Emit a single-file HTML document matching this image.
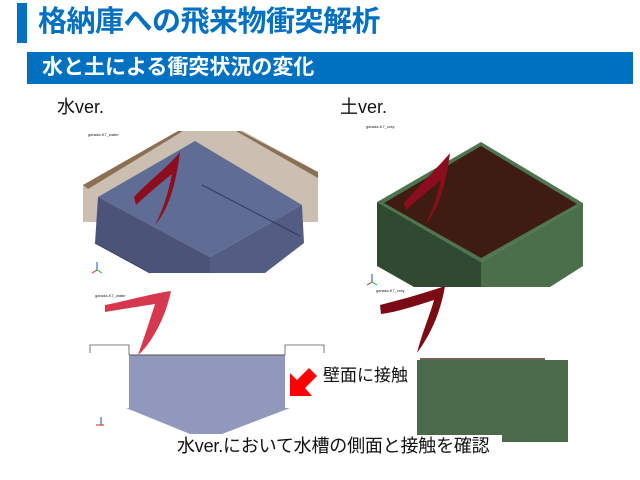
<!DOCTYPE html>
<html><head><meta charset="utf-8"><style>
body{margin:0;width:640px;height:480px;background:#fff;position:relative;overflow:hidden;font-family:"Liberation Sans","Noto Sans CJK JP",sans-serif}
.a{position:absolute;white-space:nowrap}
</style></head><body>
<div class="a" style="left:17px;top:3px;width:10px;height:40px;background:#0070c0"></div>
<div class="a" style="left:38px;top:4px;font-size:29px;font-weight:bold;color:#0070c0;line-height:36px;letter-spacing:-0.5px">格納庫への飛来物衝突解析</div>
<div class="a" style="left:27px;top:52px;width:606px;height:32px;background:#0070c0"></div>
<div class="a" style="left:42px;top:53px;font-size:21px;font-weight:bold;color:#fff;line-height:30px">水と土による衝突状況の変化</div>
<div class="a" style="left:57px;top:95px;font-size:18px;color:#111;line-height:24px">水ver.</div>
<div class="a" style="left:340px;top:95px;font-size:18px;color:#111;line-height:24px">土ver.</div>
<svg class="a" style="left:0;top:0" width="640" height="480">
<g font-size="4" font-family="Liberation Sans" fill="#222">
<text x="88" y="136">garada-K7_water</text><text x="366" y="128">garada-K7_cray</text>
<text x="95" y="297">garada-K7_water</text><text x="376" y="292">garada-K7_cray</text></g>
<polygon points="83,185 178,131 243,131 318,172 318,222 83,222" fill="#cbbfb2"/>
<polygon points="83,185 178,131 183,131 88,189" fill="#8a6f55"/>
<polygon points="240,131 318,172 318,178 236,131" fill="#8a6f55"/>
<polygon points="195,141 98,197 210,257 302,205" fill="#5f6c93"/>
<polygon points="98,197 210,257 210,273 150,273 95,243" fill="#4b5478"/>
<polygon points="210,257 302,205 304,243 265,273 210,273" fill="#535d84"/>
<line x1="202" y1="185" x2="300" y2="236" stroke="#2e3a66" stroke-width="1"/>
<line x1="95" y1="243" x2="150" y2="273" stroke="#3a4468"/>
<path d="M180,152 C170,165 150,180 134,197 L136,205 C150,192 162,182 172,174 C168,195 162,212 155,225 C168,210 176,185 180,152Z" fill="#8c0d1e"/>
<g stroke-width="1"><line x1="97" y1="270" x2="97" y2="262" stroke="#15a"/><line x1="97" y1="270" x2="92" y2="273" stroke="#c22"/><line x1="97" y1="270" x2="102" y2="273" stroke="#2a2"/></g>
<polygon points="481,142 377,202 481,262 583,203" fill="#4f7550"/>
<polygon points="481,146 384,203 481,258 577,204" fill="#3e1c12"/>
<polygon points="377,202 481,262 481,287 414,287 377,266" fill="#2f4a31"/>
<polygon points="481,262 583,203 583,266 550,287 481,287" fill="#4b6f4a"/>
<path d="M450,153 C440,165 420,185 404,203 L406,210 C420,197 432,188 441,180 C437,200 430,215 425,225 C438,210 446,185 450,153Z" fill="#8c0d1e"/>
<g stroke-width="1"><line x1="372" y1="282" x2="372" y2="274" stroke="#15a"/><line x1="372" y1="282" x2="367" y2="285" stroke="#c22"/><line x1="372" y1="282" x2="377" y2="285" stroke="#2a2"/></g>
<path d="M105,305 C130,300 155,293 171,291 C165,320 150,345 138,355 C145,335 150,320 155,304 C135,307 118,310 105,312Z" fill="#d6384f"/>
<polyline points="90,353 90,345 129,345 129,355" fill="none" stroke="#555" stroke-width="0.8"/>
<polyline points="285,355 285,345 324,345 324,353" fill="none" stroke="#555" stroke-width="0.8"/>
<polygon points="129,355 285,355 285,408 290,408 222,434 190,434 126,408 129,408" fill="#9198bb"/>
<line x1="129" y1="355" x2="285" y2="355" stroke="#555"/>
<g stroke-width="1"><line x1="101" y1="425" x2="101" y2="417" stroke="#15a"/><line x1="96" y1="425" x2="104" y2="425" stroke="#c22"/></g>
<polygon points="290,396 290,373 297,380 309,368 317,376 305,388 312,396" fill="#f00"/>
<path d="M380,305 C400,300 425,293 445,286 C440,315 430,335 417,353 C423,330 430,315 434,300 C415,306 397,312 381,314Z" fill="#7a0a14"/>
<line x1="420" y1="359" x2="545" y2="359" stroke="#4a2c20" stroke-width="1.5"/>
<polygon points="417,360 568,360 568,442 502,442 502,435 417,435" fill="#4b6a4a"/>
</svg>
<div class="a" style="left:323px;top:364px;font-size:17px;color:#111;line-height:24px">壁面に接触</div>
<div class="a" style="left:177px;top:434px;font-size:18px;color:#111;line-height:24px;letter-spacing:-0.2px">水ver.において水槽の側面と接触を確認</div>
</body></html>
